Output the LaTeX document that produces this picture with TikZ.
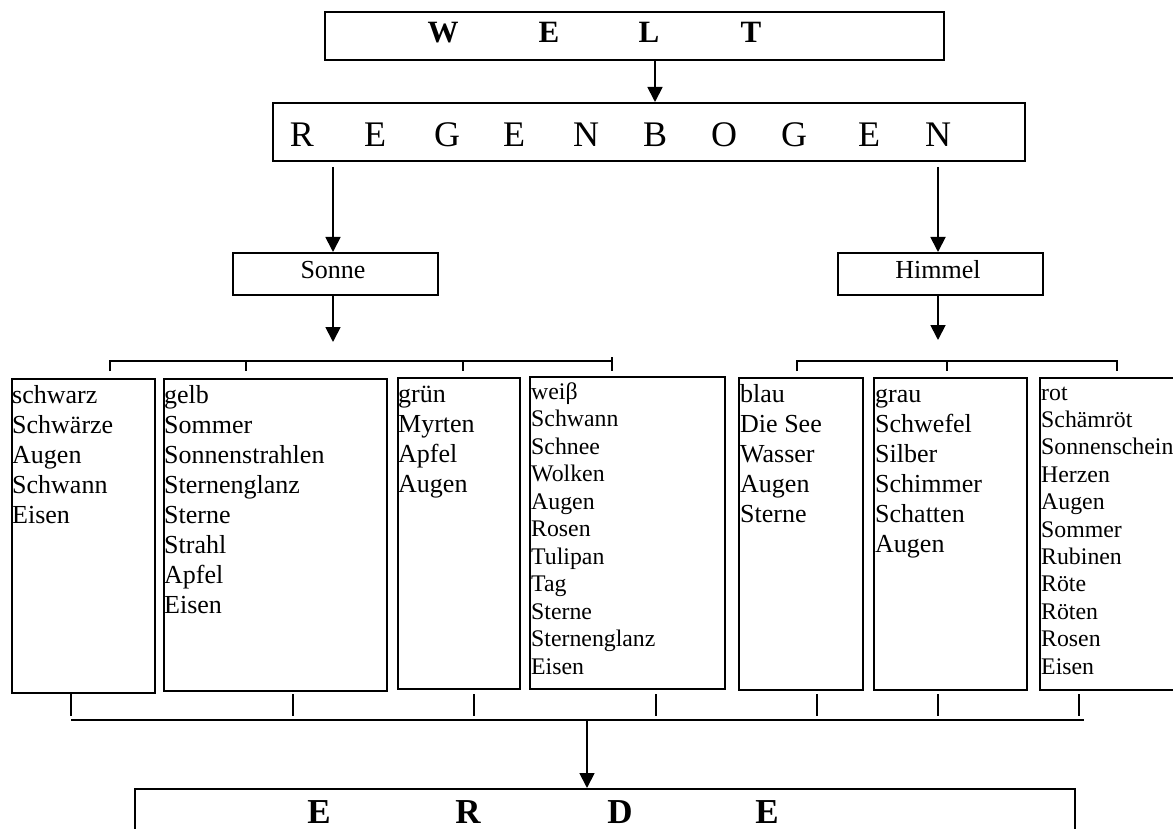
\documentclass[tikz,border=0pt]{standalone}
\usepackage{fontspec}
\setmainfont{Liberation Serif}
\usetikzlibrary{arrows.meta}
\tikzset{
  box/.style={draw, line width=1.8pt, inner sep=0pt, anchor=north west},
  arr/.style={line width=1.8pt, -{Triangle[width=15pt,length=15pt]}},
  brk/.style={line width=1.8pt},
  brkb/.style={line width=1.5pt},
  big/.style={font=\fontsize{26}{30}\selectfont, anchor=base west, inner sep=0pt},
  small/.style={font=\fontsize{23.8}{27.3}\selectfont, anchor=base west, inner sep=0pt},
  titleb/.style={font=\fontsize{31}{36}\bfseries\selectfont, anchor=base, inner sep=0pt},
  titler/.style={font=\fontsize{36}{40}\selectfont, anchor=base, inner sep=0pt},
  titlee/.style={font=\fontsize{35}{40}\bfseries\selectfont, anchor=base, inner sep=0pt},
  mid/.style={font=\fontsize{26}{30}\selectfont, anchor=base, inner sep=0pt},
}
\begin{document}
\begin{tikzpicture}[x=1pt,y=-1pt]
\useasboundingbox (0,0) rectangle (1173,829);
% top boxes
\node[box, minimum width=619pt, minimum height=48pt] (welt) at (324,11) {};
\foreach \l/\x [count=\i] in {W/443,E/549,L/649,T/751}
  \node[titleb] (wl\i) at (\x,43) {\l};
\node[box, minimum width=752pt, minimum height=58pt] (regen) at (272,102) {};
\foreach \l/\x [count=\i] in {R/302,E/375,G/447,E/514,N/586,B/655,O/724,G/794,E/869,N/938}
  \node[titler] (rl\i) at (\x,147) {\l};
\node[box, minimum width=205pt, minimum height=42pt] (sonne) at (232,252) {};
\node[mid] (sonnet) at (333,279) {Sonne};
\node[box, minimum width=205pt, minimum height=42pt] (himmel) at (837,252) {};
\node[mid] (himmelt) at (938,279) {Himmel};
% arrows
\draw[arr] (655,0 |- welt.south) -- (655,0 |- regen.north);
\draw[arr, shorten <=5pt] (333,0 |- regen.south) -- (333,0 |- sonne.north);
\draw[arr, shorten <=5pt] (938,0 |- regen.south) -- (938,0 |- himmel.north);
\coordinate (lb) at (110,361);
\coordinate (rb) at (797,361);
\draw[arr] (333,0 |- sonne.south) -- (333,342);
\draw[arr] (938,0 |- himmel.south) -- (938,340);
% brackets
\draw[brk] (lb) ++(0,10) -- (lb) -- (612,361) -- (612,371);
\draw[brk] (246,361) -- (246,371);
\draw[brk] (463,361) -- (463,371);
\draw[brk] (612,357) -- (612,361);
\draw[brk] (rb) ++(0,10) -- (rb) -- (1117,361) -- (1117,371);
\draw[brk] (947,361) -- (947,371);
% column boxes
\node[box, minimum width=143pt, minimum height=314pt] (c1) at (11,378) {};
\node[box, minimum width=223pt, minimum height=312pt] (c2) at (163,378) {};
\node[box, minimum width=122pt, minimum height=311pt] (c3) at (397,377) {};
\node[box, minimum width=195pt, minimum height=312pt] (c4) at (529,376) {};
\node[box, minimum width=124pt, minimum height=312pt] (c5) at (738,377) {};
\node[box, minimum width=153pt, minimum height=312pt] (c6) at (873,377) {};
\node[box, minimum width=150pt, minimum height=312pt] (c7) at (1039,377) {};
% column texts
\foreach \w [count=\i from 0] in {schwarz,Schwärze,Augen,Schwann,Eisen}
  \node[big] (ta\i) at (12,403+30*\i) {\w};
\foreach \w [count=\i from 0] in {gelb,Sommer,Sonnenstrahlen,Sternenglanz,Sterne,Strahl,Apfel,Eisen}
  \node[big] (tb\i) at (164,403+30*\i) {\w};
\foreach \w [count=\i from 0] in {grün,Myrten,Apfel,Augen}
  \node[big] (tc\i) at (398,402+30*\i) {\w};
\foreach \w [count=\i from 0] in {weiβ,Schwann,Schnee,Wolken,Augen,Rosen,Tulipan,Tag,Sterne,Sternenglanz,Eisen}
  \node[small] (td\i) at (531,399+27.5*\i) {\w};
\foreach \w [count=\i from 0] in {blau,Die See,Wasser,Augen,Sterne}
  \node[big] (te\i) at (740,402+30*\i) {\w};
\foreach \w [count=\i from 0] in {grau,Schwefel,Silber,Schimmer,Schatten,Augen}
  \node[big] (tf\i) at (875,402+30*\i) {\w};
\foreach \w [count=\i from 0] in {rot,Schämröt,Sonnenschein,Herzen,Augen,Sommer,Rubinen,Röte,Röten,Rosen,Eisen}
  \node[small] (tg\i) at (1041,400+27.4*\i) {\w};
% bottom bracket
\foreach \x in {71,293,474,656,817,938,1079}
  \draw[brkb] (\x,694) -- (\x,716);
\coordinate (bl) at (71,720);
\coordinate (br) at (1084,720);
\draw[brkb] (bl) -- (br);
% ERDE
\node[box, minimum width=940pt, minimum height=60pt] (erde) at (134,788) {};
\foreach \l/\x [count=\i] in {E/319,R/468,D/620,E/767}
  \node[titlee] (el\i) at (\x,823) {\l};
\draw[arr] (587,0 |- bl) -- (587,0 |- erde.north);
\end{tikzpicture}
\end{document}
